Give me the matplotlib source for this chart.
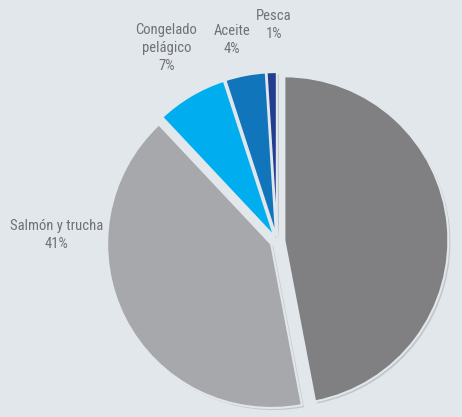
import matplotlib.pyplot as plt
import matplotlib.patheffects as pe
from matplotlib import font_manager

# Slices in clockwise order starting at 12 o'clock
categories = ["", "Salmón y trucha", "Congelado\npelágico", "Aceite", "Pesca"]
shares = [47, 41, 7, 4, 1]
colors = ["#808083", "#a7a8ab", "#00aeef", "#1175bb", "#233e8f"]
explode = [0.045, 0.04, 0.03, 0.03, 0.03]

# label anchor points (axes fraction), one per labelled slice
label_pos = {1: (0.123, 0.437), 2: (0.36, 0.885), 3: (0.502, 0.904), 4: (0.593, 0.94)}

BG = "#e2e7eb"
TEXT = "#707175"

names = {f.name for f in font_manager.fontManager.ttflist}
family = "DejaVu Sans"
for cand in ["Roboto Condensed", "Liberation Sans Narrow", "Arial Narrow", "Roboto"]:
    if cand in names:
        family = cand
        break

fig = plt.figure(figsize=(4.62, 4.17), dpi=100, facecolor=BG)
ax = fig.add_axes([0, 0, 1, 1])
ax.set_facecolor(BG)

wedges, _ = ax.pie(
    shares,
    colors=colors,
    explode=explode,
    startangle=90,
    counterclock=False,
    radius=1.0,
    wedgeprops=dict(linewidth=1.5, edgecolor=BG),
)
for w in wedges:
    w.set_path_effects([
        pe.SimplePatchShadow(offset=(1.5, -1.5), shadow_rgbFace="#9aa0a6", alpha=0.45),
        pe.Normal(),
    ])

# map data units to pixels: centre at (277, 241) px, radius 164 px
ax.set_xlim(-277 / 164, (462 - 277) / 164)
ax.set_ylim(-(417 - 241) / 164, 241 / 164)
ax.set_aspect("auto")
ax.axis("off")

for i, (x, y) in label_pos.items():
    ax.text(x, y, f"{categories[i]}\n{shares[i]}%", transform=ax.transAxes,
            ha="center", va="center", fontsize=10.5, color=TEXT,
            family=family, linespacing=1.4)

fig.savefig("out.png", dpi=100, facecolor=BG)
